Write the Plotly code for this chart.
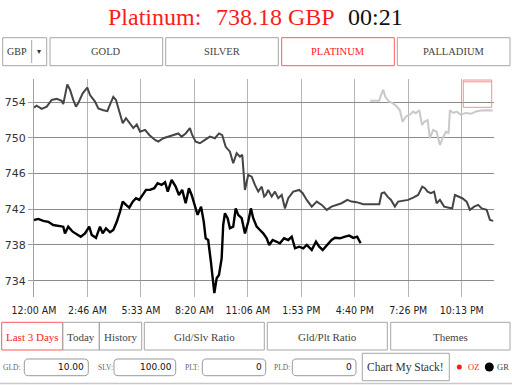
import plotly.graph_objects as go

# ---- data (hours since midnight, price GBP) ----
prev_hours = [0.00, 0.14, 0.40, 0.66, 0.92, 1.18, 1.44, 1.52, 1.73, 1.87, 2.04, 2.18, 2.30, 2.53, 2.77, 2.91,
              3.17, 3.34, 3.60, 3.81, 3.98, 4.12, 4.26, 4.43, 4.61, 4.78, 4.95, 5.16, 5.34, 5.51, 5.77, 5.99,
              6.29, 6.46, 6.72, 6.98, 7.24, 7.50, 7.67, 7.88, 8.10, 8.22, 8.40, 8.62, 8.88, 9.14, 9.40, 9.61,
              9.78, 9.96, 10.18, 10.35, 10.53, 10.70, 10.82, 10.96, 11.13, 11.31, 11.48, 11.65, 11.83, 11.96,
              12.05, 12.17, 12.35, 12.52, 12.69, 12.87, 13.04, 13.21, 13.47, 13.78, 13.96, 14.17, 14.43, 14.69,
              14.95, 15.21, 15.46, 15.72, 15.98, 16.28, 16.50, 16.76, 17.11, 17.94, 18.06, 18.20, 18.37, 18.55,
              18.75, 18.92, 19.18, 19.44, 19.70, 19.96, 20.17, 20.31, 20.45, 20.62, 20.79, 20.92, 21.09, 21.31,
              21.56, 21.73, 21.87, 22.04, 22.25, 22.48, 22.65, 22.87, 23.08, 23.26, 23.52, 23.69, 23.86]
prev_price = [753.4, 753.6, 753.25, 753.5, 754.26, 754.37, 754.15, 753.78, 756.0, 755.4, 754.26, 753.5, 753.9,
              755.0, 755.64, 754.8, 754.07, 753.3, 753.1, 753.0, 753.9, 754.6, 754.26, 752.95, 751.65, 752.2,
              751.65, 751.1, 751.5, 750.7, 750.9, 750.33, 749.77, 749.58, 749.96, 750.14, 750.33, 750.5, 750.14,
              750.5, 751.1, 750.33, 749.58, 749.4, 749.77, 750.14, 749.96, 750.5, 750.3, 749.0, 748.46, 747.16,
              748.28, 747.9, 748.1, 744.17, 745.85, 745.66, 744.73, 743.98, 744.54, 743.42, 743.6, 744.17, 743.42,
              743.98, 743.24, 743.6, 742.1, 743.24, 743.98, 744.17, 743.8, 743.05, 742.3, 742.86, 742.49, 741.93,
              742.3, 742.49, 742.68, 743.05, 742.86, 742.8, 742.56, 742.56, 743.8, 743.9, 743.42, 743.05, 742.3,
              742.86, 742.93, 743.05, 743.3, 743.6, 744.54, 744.36, 743.98, 743.8, 743.98, 742.68, 743.05, 742.3,
              742.18, 742.1, 743.6, 743.42, 743.24, 742.86, 741.93, 742.3, 742.49, 742.1, 741.93, 740.8, 740.7]

today_hours = [0.00, 0.22, 0.48, 0.74, 1.00, 1.26, 1.52, 1.61, 1.78, 2.01, 2.22, 2.43, 2.65, 2.87, 3.00, 3.22,
               3.43, 3.57, 3.74, 3.95, 4.12, 4.30, 4.47, 4.61, 4.78, 4.95, 5.13, 5.30, 5.47, 5.65, 5.82, 6.03,
               6.25, 6.42, 6.63, 6.81, 6.95, 7.15, 7.36, 7.53, 7.70, 7.88, 8.05, 8.19, 8.36, 8.50, 8.68, 8.82,
               8.92, 9.05, 9.19, 9.28, 9.37, 9.49, 9.61, 9.75, 9.83, 9.92, 10.06, 10.18, 10.35, 10.48, 10.61,
               10.79, 10.96, 11.13, 11.27, 11.39, 11.57, 11.74, 11.91, 12.09, 12.22, 12.40, 12.61, 12.78, 12.99,
               13.21, 13.39, 13.56, 13.78, 13.99, 14.17, 14.43, 14.65, 14.82, 15.00, 15.21, 15.46, 15.64, 15.90,
               16.16, 16.38, 16.59, 16.79, 16.97]
today_price = [740.8, 740.92, 740.7, 740.6, 740.24, 740.16, 740.05, 739.3, 740.05, 739.49, 739.2, 738.93, 739.3,
               740.05, 739.12, 738.8, 740.05, 739.3, 739.87, 739.42, 739.68, 740.6, 741.74, 742.86, 742.49, 742.18,
               742.86, 743.24, 743.05, 743.6, 744.17, 744.17, 744.36, 744.92, 744.73, 745.03, 743.98, 745.29,
               744.54, 743.6, 744.17, 742.68, 744.36, 743.6, 742.49, 741.37, 742.3, 740.6, 738.75, 738.56, 736.13,
               734.6, 732.6, 734.27, 734.64, 736.5, 740.24, 741.55, 741.0, 739.87, 740.05, 742.1, 741.37, 741.0,
               739.3, 740.6, 742.1, 741.0, 740.05, 739.68, 739.3, 738.75, 738.0, 738.56, 738.37, 738.19, 738.75,
               738.56, 738.93, 737.63, 737.81, 737.63, 738.0, 737.44, 738.37, 737.81, 737.44, 738.0, 738.56, 738.8,
               738.75, 738.93, 739.05, 738.8, 738.93, 738.19]

older_hours = [17.47, 17.94, 18.03, 18.15, 18.25, 18.46, 18.63, 18.81, 19.01, 19.15, 19.32, 19.53, 19.70, 19.84,
               20.02, 20.16, 20.28, 20.45, 20.57, 20.74, 20.92, 21.09, 21.23, 21.40, 21.54, 21.61, 21.78, 21.96,
               22.18, 22.44, 22.70, 22.96, 23.22, 23.47, 23.83]
older_price = [754.15, 754.15, 754.8, 755.4, 754.6, 754.07, 753.9, 753.6, 753.1, 751.8, 752.4, 752.6, 752.95,
               752.77, 753.1, 751.45, 751.8, 752.0, 749.96, 750.9, 750.7, 749.2, 749.96, 750.7, 750.5, 753.1, 752.8,
               752.95, 752.6, 752.8, 752.7, 752.95, 753.06, 753.1, 753.06]

x_tickvals = [0, 2.7778, 5.5556, 8.3333, 11.1111, 13.8889, 16.6667, 19.4444, 22.2222]
x_ticktext = ["12:00 AM", "2:46 AM", "5:33 AM", "8:20 AM", "11:06 AM", "1:53 PM", "4:40 PM", "7:26 PM", "10:13 PM"]
y_tickvals = [734, 738, 742, 746, 750, 754]

metal_buttons = ["GOLD", "SILVER", "PLATINUM", "PALLADIUM"]
range_buttons = ["Last 3 Days", "Today", "History", "Gld/Slv Ratio", "Gld/Plt Ratio", "Themes"]
stack_labels = ["GLD:", "SLV:", "PLT:", "PLD:"]
stack_values = ["10.00", "100.00", "0", "0"]

# ---- layout helpers (pixel -> paper) ----
W, H = 512, 385
L, R, T, B = 34, 18, 79, 88
PW = W - L - R
PH = H - T - B


def px(x):
    return (x - L) / PW


def py(y):
    return (T + PH - y) / PH


SERIF = "Liberation Serif, Times New Roman, serif"
RED = "#ff1a1a"
BORDER = "#a6a6a6"

shapes = []
annotations = []


def rect(x0, y0, x1, y1, color=BORDER, width=1, fill="rgba(0,0,0,0)"):
    shapes.append(dict(type="rect", xref="paper", yref="paper", x0=px(x0), x1=px(x1), y0=py(y1), y1=py(y0),
                       line=dict(color=color, width=width), fillcolor=fill, layer="above"))


def rrect(x0, y0, x1, y1, r=4, color="#999", width=1):
    X = lambda v: f"{px(v):.5f}"
    Y = lambda v: f"{py(v):.5f}"
    path = (f"M {X(x0 + r)},{Y(y0)} L {X(x1 - r)},{Y(y0)} Q {X(x1)},{Y(y0)} {X(x1)},{Y(y0 + r)} "
            f"L {X(x1)},{Y(y1 - r)} Q {X(x1)},{Y(y1)} {X(x1 - r)},{Y(y1)} "
            f"L {X(x0 + r)},{Y(y1)} Q {X(x0)},{Y(y1)} {X(x0)},{Y(y1 - r)} "
            f"L {X(x0)},{Y(y0 + r)} Q {X(x0)},{Y(y0)} {X(x0 + r)},{Y(y0)} Z")
    shapes.append(dict(type="path", xref="paper", yref="paper", path=path,
                       line=dict(color=color, width=width), fillcolor="rgba(0,0,0,0)", layer="above"))


def line(x0, y0, x1, y1, color=BORDER, width=1):
    shapes.append(dict(type="line", xref="paper", yref="paper", x0=px(x0), x1=px(x1), y0=py(y0), y1=py(y1),
                       line=dict(color=color, width=width), layer="above"))


def circle(cx, cy, r, color):
    shapes.append(dict(type="circle", xref="paper", yref="paper", x0=px(cx - r), x1=px(cx + r), y0=py(cy + r),
                       y1=py(cy - r), line=dict(color=color, width=0), fillcolor=color, layer="above"))


def text(x, y, s, size=11, color="#444", xanchor="center", family=SERIF):
    annotations.append(dict(x=px(x), y=py(y), xref="paper", yref="paper", text=s, showarrow=False,
                            xanchor=xanchor, yanchor="middle", borderpad=0,
                            font=dict(size=size, color=color, family=family)))


# title
text(107, 17, "Platinum:", size=24, color=RED, xanchor="left")
text(215, 17, "738.18 GBP", size=24, color=RED, xanchor="left")
text(347, 17, "00:21", size=24, color="#111", xanchor="left")

# top row
rect(2.7, 37.7, 46.7, 65.7)
line(31.7, 40, 31.7, 63)
text(16.7, 51.5, "GBP", size=10, color="#333")
text(39.3, 51.5, "▾", size=8, color="#333")
top_x = [(50, 162.7), (165.7, 278.3), (281.7, 394.3), (397.3, 510)]
for (a, b), lab in zip(top_x, metal_buttons):
    active = lab == "PLATINUM"
    rect(a, 37.7, b, 65.7, color="#ff5a5a" if active else BORDER)
    text((a + b) / 2, 51.5, lab, size=10.5, color=RED if active else "#444")

# range row
row_x = [(1.7, 62.7), (62.7, 99.3), (99.3, 141.7), (144.3, 264.3), (267.3, 387.3), (390.7, 510)]
for (a, b), lab in zip(row_x, range_buttons):
    active = lab == "Last 3 Days"
    rect(a, 322.3, b, 350, color="#ff5a5a" if active else BORDER)
    text((a + b) / 2, 336.5, lab, size=11, color=RED if active else "#444")

# stack row
lab_x = [1.5, 96.5, 183.5, 273]
box_x = [(24.3, 88.3), (114, 175.7), (202.3, 265.7), (292.3, 356)]
for lx, (a, b), lab, val in zip(lab_x, box_x, stack_labels, stack_values):
    text(lx, 367, lab, size=7.5, color="#666", xanchor="left")
    rrect(a, 359, b, 375.7)
    text(b - 3, 367, val, size=9, color="#111", xanchor="right", family="DejaVu Sans, sans-serif")
rect(362.3, 353.3, 449.3, 380.7)
text(405.8, 367, "Chart My Stack!", size=11.5, color="#333")
circle(459.3, 367, 2.5, RED)
text(466.7, 367, "OZ", size=8.5, color=RED, xanchor="left")
circle(489.3, 367, 4.5, "#000")
text(495.5, 367, "GR", size=8.5, color="#444", xanchor="left")
line(0, 383.5, 512, 383.5, color="#c8c8c8", width=1.5)

# red zoom box in chart
rect(463.3, 80, 491.7, 107.3, color="#ff8c8c")
line(463.3, 81.8, 491.7, 81.8, color="#ff8c8c")

fig = go.Figure()
fig.add_trace(go.Scatter(x=prev_hours, y=prev_price, mode="lines", line=dict(color="#454545", width=2),
                         hoverinfo="skip"))
fig.add_trace(go.Scatter(x=today_hours, y=today_price, mode="lines", line=dict(color="#000000", width=2.4),
                         hoverinfo="skip"))
fig.add_trace(go.Scatter(x=older_hours, y=older_price, mode="lines", line=dict(color="#c9c9c9", width=2),
                         hoverinfo="skip"))

fig.update_layout(
    width=W, height=H,
    margin=dict(l=L, r=R, t=T, b=B, pad=0, autoexpand=False),
    paper_bgcolor="white", plot_bgcolor="white",
    showlegend=False,
    shapes=shapes, annotations=annotations,
    xaxis=dict(range=[0, 23.9], tickvals=x_tickvals, ticktext=x_ticktext, showgrid=True, gridcolor="#b4b4b4",
               gridwidth=1, zeroline=False, showline=False, ticks="", ticklabelstandoff=5, automargin=False,
               tickfont=dict(size=10.5, color="#222", family="DejaVu Sans Condensed, DejaVu Sans, sans-serif")),
    yaxis=dict(range=[732.17, 756.6], tickvals=y_tickvals, showgrid=True, gridcolor="#8c8c8c", gridwidth=1,
               zeroline=False, showline=True, linecolor="#a0a0a0", ticks="outside", ticklen=5,
               tickcolor="#a0a0a0", ticklabelstandoff=0, automargin=False,
               tickfont=dict(size=11, color="#333", family="DejaVu Sans, sans-serif")),
)

fig.write_html("out.html", config={"displayModeBar": False},
               post_script="document.body.style.margin='0';document.body.style.overflow='hidden';")
